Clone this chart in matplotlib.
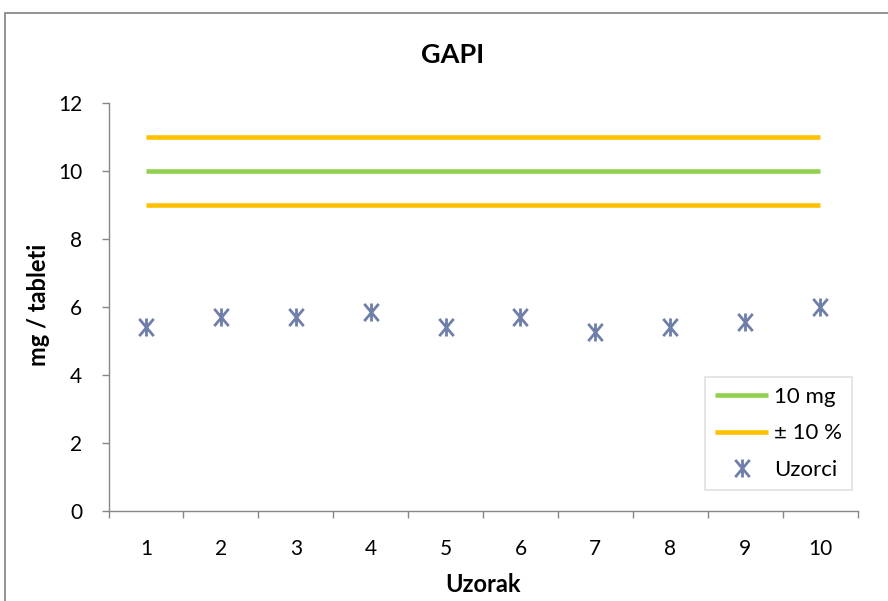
import matplotlib.pyplot as plt
from matplotlib.path import Path
from matplotlib.patches import Rectangle
from matplotlib.ticker import MultipleLocator

plt.rcParams['font.family'] = ['Lato', 'DejaVu Sans']

# data
samples = [1, 2, 3, 4, 5, 6, 7, 8, 9, 10]
measured = [5.42, 5.71, 5.71, 5.86, 5.42, 5.71, 5.27, 5.42, 5.57, 6.01]
nominal = [10] * 10
upper = [11] * 10
lower = [9] * 10

GREEN = '#92D050'
ORANGE = '#FFC000'
STAR = '#6F7FAA'
GREY = '#868686'

# Excel style star marker: vertical bar plus an X
star = Path(
    [(0, -1), (0, 1), (-0.8, -0.95), (0.8, 0.95), (-0.8, 0.95), (0.8, -0.95)],
    [Path.MOVETO, Path.LINETO, Path.MOVETO, Path.LINETO, Path.MOVETO, Path.LINETO],
)

fig = plt.figure(figsize=(8.88, 6.01), dpi=100)
ax = fig.add_axes([108.5 / 888, 1 - 511 / 601, 749 / 888, 408 / 601])

ax.plot(samples, nominal, color=GREEN, lw=3.3, solid_capstyle='butt', label='10 mg', zorder=3)
ax.plot(samples, upper, color=ORANGE, lw=3.3, solid_capstyle='butt', label='± 10 %', zorder=3)
ax.plot(samples, lower, color=ORANGE, lw=3.3, solid_capstyle='butt', zorder=3)
ax.plot(samples, measured, ls='none', marker=star, markersize=13, mec=STAR, mfc='none',
        mew=2.0, label='Uzorci', zorder=4)

ax.set_xlim(0.5, 10.5)
ax.set_ylim(0, 12)
ax.yaxis.set_major_locator(MultipleLocator(2))
ax.set_xticks(samples)
ax.set_xticks([s + 0.5 for s in [0] + samples], minor=True)

for side in ['top', 'right']:
    ax.spines[side].set_visible(False)
for side in ['left', 'bottom']:
    ax.spines[side].set_color(GREY)
    ax.spines[side].set_linewidth(1.0)

ax.tick_params(axis='x', which='major', length=0, pad=20, labelsize=15)
ax.tick_params(axis='x', which='minor', length=5, width=1.0, color=GREY, direction='out')
ax.tick_params(axis='y', length=5, width=1.0, color=GREY, direction='out', pad=14, labelsize=15)

fig.text(453 / 888, 1 - 55 / 601, 'GAPI', ha='center', va='center', fontsize=19.5, fontweight='bold')
fig.text(483 / 888, 1 - 585 / 601, 'Uzorak', ha='center', va='center', fontsize=17, fontweight='bold')
fig.text(38 / 888, 1 - 305 / 601, 'mg / tableti', ha='center', va='center', rotation=90,
         fontsize=17, fontweight='bold')

leg = ax.legend(loc='lower right', bbox_to_anchor=(0.9927, 0.0515), borderaxespad=0,
                fontsize=16, frameon=True, fancybox=False, edgecolor='#D9D9D9',
                handlelength=2.4, handletextpad=0.25, labelspacing=0.75, borderpad=0.45)
leg.get_frame().set_linewidth(1.2)

# outer chart border, cut off at the right and bottom like the reference
fig.patches.append(Rectangle((5 / 888, -0.1), 1.2, 1.1 - 13 / 601, transform=fig.transFigure,
                             fill=False, edgecolor='#8A8A8A', lw=1.3))

fig.savefig('out.png', dpi=100)
